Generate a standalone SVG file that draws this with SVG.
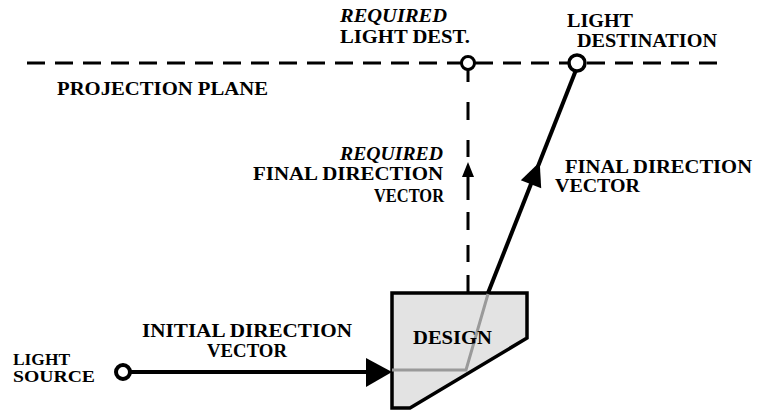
<svg xmlns="http://www.w3.org/2000/svg" width="759" height="413" viewBox="0 0 759 413">
<style>
text{font-family:"Liberation Serif","Times New Roman",serif;font-weight:bold;font-size:18px;fill:#000}
.sm{font-size:16px}
.it{font-style:italic}
.dash{stroke:#000;stroke-width:3;fill:none}
.solid{stroke:#000;stroke-width:4;fill:none}
.ring{stroke:#000;fill:#fff}
</style>
<rect width="759" height="413" fill="#fff"/>
<g id="connectors">
<line class="dash" x1="27" y1="63" x2="718" y2="63" stroke-dasharray="18 10"/>
<g id="required-vector">
<path class="dash" d="M468 70V82M468 102V120M468 140V157M468 170V200M468 212V230M468 245V262M468 275V293"/>
<polygon points="468,162 474,177 462,177" fill="#000"/>
</g>
<g id="final-vector">
<line class="solid" x1="488" y1="293" x2="576" y2="70"/>
<polygon points="539.7,162 541.2,188.3 520.8,180.3" fill="#000"/>
</g>
<g id="initial-vector">
<line class="solid" x1="130" y1="372" x2="370" y2="372"/>
<polygon points="366,358 392,372 366,387" fill="#000"/>
</g>
</g>
<g id="design">
<polygon points="392,293 527,293 527,338 410,408 392,408" fill="#e3e3e3" stroke="#000" stroke-width="3.5" stroke-linejoin="miter"/>
<polyline points="392,370 466,370 488,294" fill="none" stroke="#9a9a9a" stroke-width="3"/>
<text x="413" y="344" textLength="79" lengthAdjust="spacingAndGlyphs">DESIGN</text>
</g>
<g id="light-source">
<circle class="ring" cx="123" cy="372" r="7" stroke-width="4"/>
<text class="sm" x="13" y="365" textLength="57" lengthAdjust="spacingAndGlyphs">LIGHT</text>
<text class="sm" x="13" y="382" textLength="82" lengthAdjust="spacingAndGlyphs">SOURCE</text>
</g>
<g id="required-dest">
<circle class="ring" cx="468" cy="63" r="6.5" stroke-width="3"/>
<text class="it" x="340" y="22" textLength="107" lengthAdjust="spacingAndGlyphs">REQUIRED</text>
<text x="340" y="43" textLength="130" lengthAdjust="spacingAndGlyphs">LIGHT DEST.</text>
</g>
<g id="light-dest">
<circle class="ring" cx="577" cy="63" r="8" stroke-width="3.5"/>
<text x="567" y="27" textLength="66" lengthAdjust="spacingAndGlyphs">LIGHT</text>
<text x="577" y="47" textLength="140" lengthAdjust="spacingAndGlyphs">DESTINATION</text>
</g>
<g id="projection-plane">
<text x="57" y="95" textLength="211" lengthAdjust="spacingAndGlyphs">PROJECTION PLANE</text>
</g>
<g id="required-final-label">
<text class="it" x="340" y="160" textLength="103" lengthAdjust="spacingAndGlyphs">REQUIRED</text>
<text x="253" y="180" textLength="190" lengthAdjust="spacingAndGlyphs">FINAL DIRECTION</text>
<text x="374" y="202" textLength="70" lengthAdjust="spacingAndGlyphs">VECTOR</text>
</g>
<g id="final-label">
<text x="565" y="173" textLength="187" lengthAdjust="spacingAndGlyphs">FINAL DIRECTION</text>
<text x="555" y="192" textLength="85" lengthAdjust="spacingAndGlyphs">VECTOR</text>
</g>
<g id="initial-label">
<text x="142" y="337" textLength="210" lengthAdjust="spacingAndGlyphs">INITIAL DIRECTION</text>
<text x="207" y="357" textLength="80" lengthAdjust="spacingAndGlyphs">VECTOR</text>
</g>
</svg>
